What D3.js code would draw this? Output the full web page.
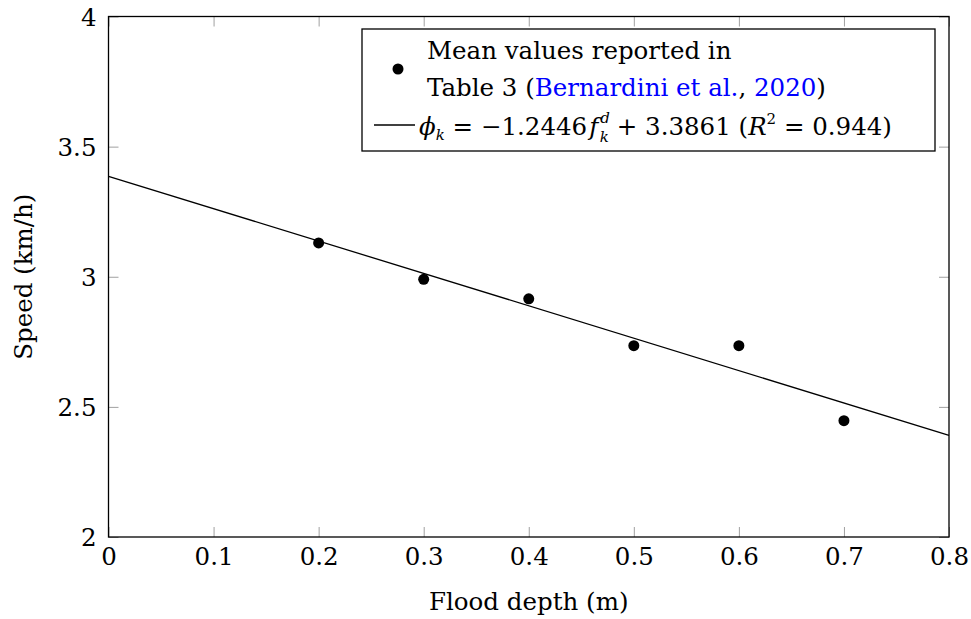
<!DOCTYPE html>
<html>
<head>
<meta charset="utf-8">
<script src="https://cdn.jsdelivr.net/npm/d3@7"></script>
<style>
  body { margin: 0; background: #fff; }
</style>
</head>
<body>
<svg id="chart" width="971" height="619"></svg>
<script>
// flood depth (m) vs mean speed (km/h)
var depths = [0.2, 0.3, 0.4, 0.5, 0.6, 0.7];
var speeds = [3.13, 2.99, 2.915, 2.735, 2.735, 2.447];
var fitSlope = -1.2446, fitIntercept = 3.3861;
var xTicks = [0, 0.1, 0.2, 0.3, 0.4, 0.5, 0.6, 0.7, 0.8];
var yTicks = [2, 2.5, 3, 3.5, 4];

var FONT = "'DejaVu Serif', 'Liberation Serif', serif";
var FS = 24.5;

var margin = {top: 16.5, right: 22, bottom: 82, left: 108.5},
    width = 971 - margin.left - margin.right,
    height = 619 - margin.top - margin.bottom;

var svg = d3.select("#chart")
  .append("g")
  .attr("transform", "translate(" + margin.left + "," + margin.top + ")");

var x = d3.scaleLinear().domain([0, 0.8]).range([0, width]);
var y = d3.scaleLinear().domain([2, 4]).range([height, 0]);

var tickLen = 10;

// inward ticks on all four sides
function ticks(axis, g) {
  g.call(axis);
  g.attr("font-family", FONT).attr("font-size", FS);
  g.select(".domain").remove();
  g.selectAll(".tick line").attr("stroke", "#a0a0a0").attr("stroke-width", 1);
  g.selectAll(".tick text").attr("fill", "#000");
}

svg.append("g").attr("transform", "translate(0," + height + ")")
  .call(function(g) { ticks(d3.axisBottom(x).tickValues(xTicks).tickSizeInner(-tickLen).tickSizeOuter(0).tickPadding(5).tickFormat(d3.format("")), g); })
  .selectAll("text").attr("dy", "0.95em");

svg.append("g")
  .call(function(g) { ticks(d3.axisTop(x).tickValues(xTicks).tickSizeInner(-tickLen).tickSizeOuter(0).tickFormat(""), g); });

svg.append("g")
  .call(function(g) { ticks(d3.axisLeft(y).tickValues(yTicks).tickSizeInner(-tickLen).tickSizeOuter(0).tickPadding(12).tickFormat(d3.format("")), g); })
  .selectAll("text").attr("dy", "0.35em");

svg.append("g").attr("transform", "translate(" + width + ",0)")
  .call(function(g) { ticks(d3.axisRight(y).tickValues(yTicks).tickSizeInner(-tickLen).tickSizeOuter(0).tickFormat(""), g); });

// frame
svg.append("rect")
  .attr("width", width).attr("height", height)
  .attr("fill", "none").attr("stroke", "#000").attr("stroke-width", 1.3);

// fitted line
var line = d3.line().x(function(d) { return x(d); }).y(function(d) { return y(fitSlope * d + fitIntercept); });
svg.append("path")
  .datum([0, 0.8])
  .attr("d", line)
  .attr("fill", "none").attr("stroke", "#000").attr("stroke-width", 1.3);

// points
svg.selectAll(".dot")
  .data(depths)
  .enter().append("circle")
  .attr("class", "dot")
  .attr("cx", function(d) { return x(d); })
  .attr("cy", function(d, i) { return y(speeds[i]); })
  .attr("r", 5.5)
  .attr("fill", "#000");

// axis labels
svg.append("text")
  .attr("x", width / 2).attr("y", height + 73)
  .attr("text-anchor", "middle").attr("font-family", FONT).attr("font-size", FS)
  .text("Flood depth (m)");

svg.append("text")
  .attr("transform", "translate(-77," + (height / 2) + ") rotate(-90)")
  .attr("text-anchor", "middle").attr("font-family", FONT).attr("font-size", FS)
  .text("Speed (km/h)");

// legend
var lg = svg.append("g").attr("transform", "translate(" + (362 - margin.left) + "," + (29 - margin.top) + ")")
  .attr("font-family", FONT).attr("font-size", FS);
lg.append("rect")
  .attr("width", 573).attr("height", 122)
  .attr("fill", "#fff").attr("stroke", "#000").attr("stroke-width", 1.3);
lg.append("circle").attr("cx", 36).attr("cy", 40).attr("r", 5.5).attr("fill", "#000");
lg.append("text").attr("x", 65).attr("y", 30).text("Mean values reported in");
var t2 = lg.append("text").attr("x", 65).attr("y", 67);
t2.append("tspan").text("Table 3 (");
t2.append("tspan").attr("fill", "#0000ff").text("Bernardini et al.");
t2.append("tspan").text(", ");
t2.append("tspan").attr("fill", "#0000ff").text("2020");
t2.append("tspan").text(")");

lg.append("line").attr("x1", 12).attr("x2", 53).attr("y1", 96).attr("y2", 96)
  .attr("stroke", "#000").attr("stroke-width", 1.3);
var t3 = lg.append("text").attr("x", 57).attr("y", 106);
t3.append("tspan").attr("font-style", "italic").text("\u03d5");
t3.append("tspan").attr("font-style", "italic").attr("font-size", 15).attr("dy", 5).text("k");
t3.append("tspan").attr("dy", -5).text(" = \u22121.2446");
t3.append("tspan").attr("font-style", "italic").attr("dx", 2).text("f");
t3.append("tspan").attr("font-style", "italic").attr("font-size", 15).attr("dx", 2).attr("dy", -12).text("d");
t3.append("tspan").attr("font-style", "italic").attr("font-size", 15).attr("dx", -10).attr("dy", 19).text("k");
t3.append("tspan").attr("dy", -7).text(" + 3.3861 (");
t3.append("tspan").attr("font-style", "italic").text("R");
t3.append("tspan").attr("font-size", 15).attr("dy", -11).text("2");
t3.append("tspan").attr("dy", 11).text(" = 0.944)");
</script>
</body>
</html>
